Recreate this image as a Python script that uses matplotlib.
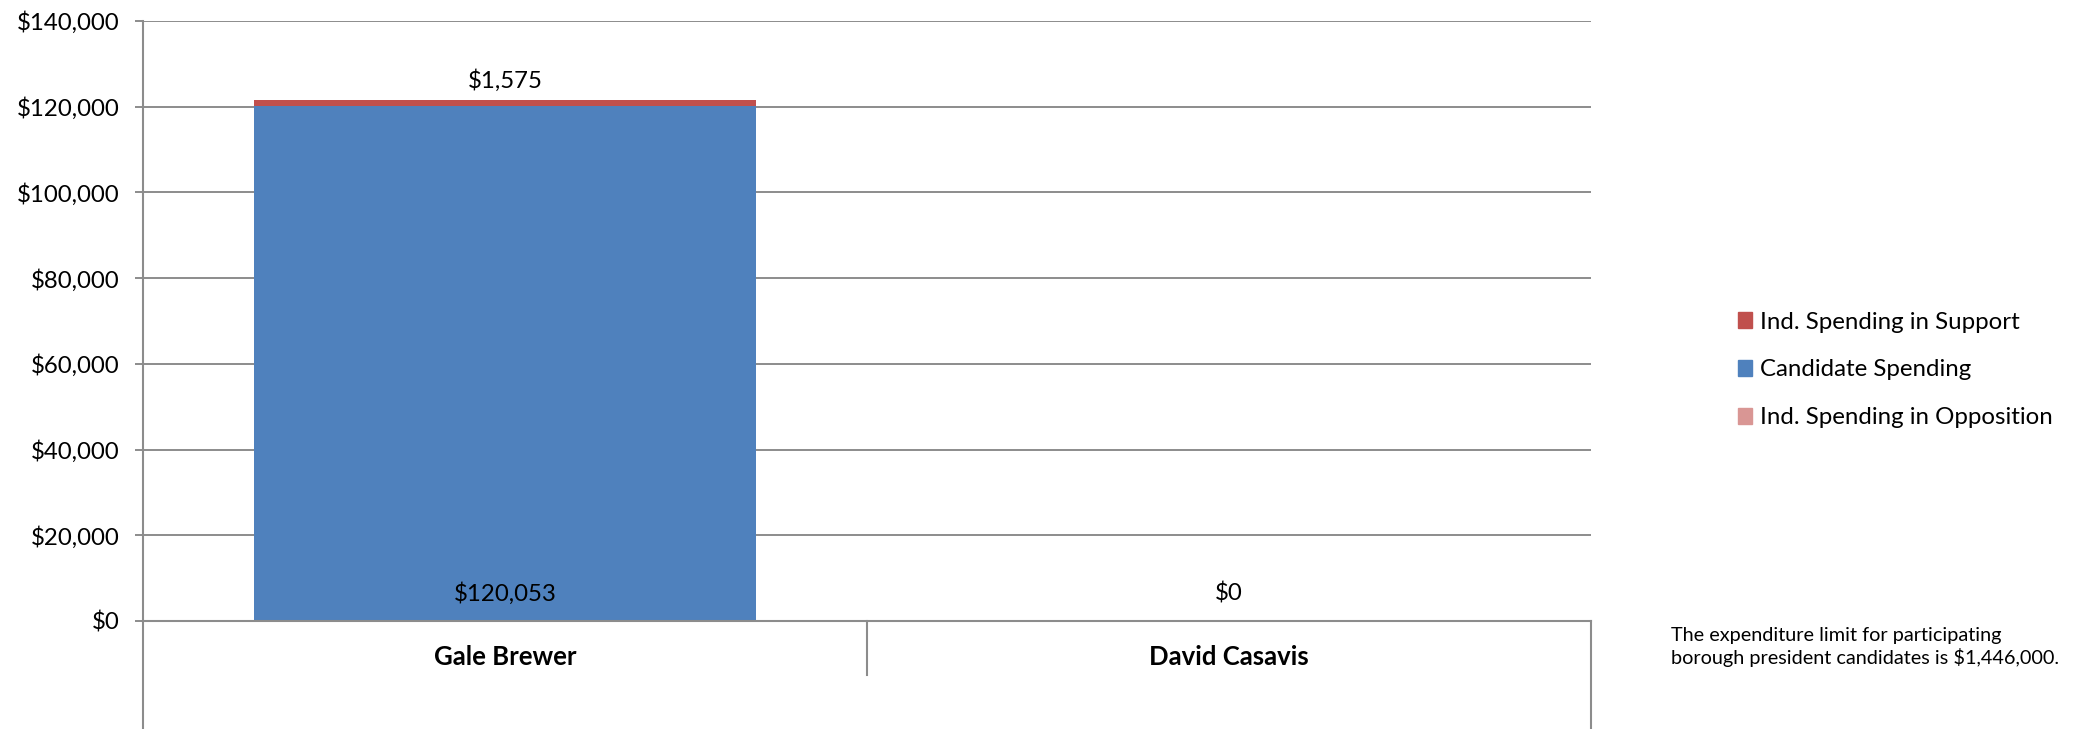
import numpy as np
import matplotlib.pyplot as plt
from matplotlib.patches import Patch

candidates = ['Gale Brewer', 'David Casavis']
candidate_spending = [120053, 0]
support_spending = [1575, 0]
opposition_spending = [0, 0]
y_ticks = np.arange(0, 140001, 20000)
note = 'The expenditure limit for participating\nborough president candidates is $1,446,000.'

plt.rcParams['font.family'] = ['Lato', 'DejaVu Sans']

blue, red, pink = '#4F81BD', '#C0504D', '#D99694'
grey = '#8C8C8C'
fs = 17.3

fig = plt.figure(figsize=(20.76, 7.29), dpi=100)
ax = fig.add_axes([143 / 2076, 108 / 729, 1448 / 2076, 600 / 729])

x = np.arange(len(candidates))
w = 0.693
top1 = np.array(candidate_spending)
top2 = top1 + np.array(support_spending)
ax.bar(x, candidate_spending, w, color=blue, zorder=3)
ax.bar(x, support_spending, w, bottom=top1, color=red, zorder=3)
ax.bar(x, opposition_spending, w, bottom=top2, color=pink, zorder=3)

# data labels
for xi, v in zip(x, candidate_spending):
    ax.annotate(f'${v:,}', (xi, 0), xytext=(0, 19.5), textcoords='offset points',
                ha='center', va='center', fontsize=fs)
for xi, v, t in zip(x, support_spending, top2):
    if v > 0:
        ax.annotate(f'${v:,}', (xi, t), xytext=(0, 13.5), textcoords='offset points',
                    ha='center', va='center', fontsize=fs)

ax.set_xlim(-0.5, 1.5)
ax.set_ylim(0, 140000)
ax.set_yticks(y_ticks)
ax.set_yticklabels([f'${v:,}' for v in y_ticks])
ax.yaxis.grid(True, color=grey, lw=1.4, zorder=0)
ax.set_xticks(x)
ax.set_xticklabels(candidates, fontweight='bold')
ax.tick_params(axis='x', length=0, pad=17, labelsize=18.5)
ax.tick_params(axis='y', length=6, width=1.4, color=grey, pad=11, labelsize=fs)

for s in ['top', 'right', 'bottom', 'left']:
    ax.spines[s].set_visible(False)

# axis frame lines below the plot
kw = dict(transform=ax.transAxes, clip_on=False, color=grey, lw=1.5, zorder=4)
ax.plot([0, 0], [-0.18, 1], **kw)
ax.plot([1, 1], [-0.18, 0], **kw)
ax.plot([0.5, 0.5], [-0.09, 0], **kw)
ax.plot([0, 1], [0, 0], **kw)

handles = [Patch(color=red, label='Ind. Spending in Support'),
           Patch(color=blue, label='Candidate Spending'),
           Patch(color=pink, label='Ind. Spending in Opposition')]
fig.legend(handles=handles, loc='center left', bbox_to_anchor=(1728 / 2076, 1 - 370 / 729),
           frameon=False, fontsize=fs, handlelength=0.6, handleheight=0.6,
           handletextpad=0.35, labelspacing=1.12, borderaxespad=0)

fig.text(1671 / 2076, 1 - 647 / 729, note, fontsize=14.3, va='center', ha='left',
         linespacing=1.3)

fig.savefig('out.png', dpi=100)
